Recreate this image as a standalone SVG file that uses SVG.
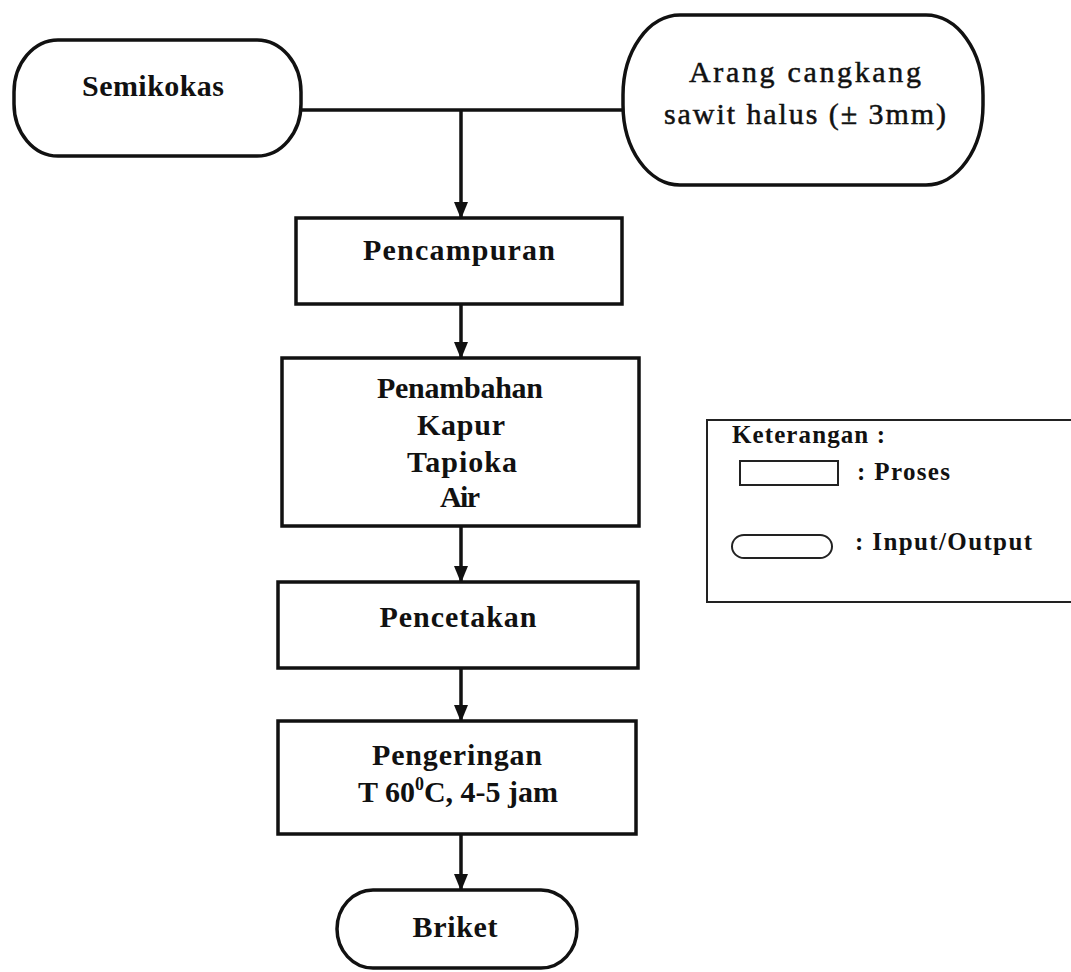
<svg xmlns="http://www.w3.org/2000/svg" width="1071" height="972" viewBox="0 0 1071 972">
<style>
  .node { fill: #fff; stroke: #111; stroke-width: 3.5; }
  .lg { fill: #fff; stroke: #222; stroke-width: 2; }
  .t { font-family: "Liberation Serif", "Times New Roman", "DejaVu Serif", serif; font-weight: bold; font-size: 30px; fill: #111; text-anchor: middle; }
  .tn { font-family: "Liberation Serif", "Times New Roman", "DejaVu Serif", serif; font-weight: normal; font-size: 30px; fill: #111; text-anchor: middle; stroke: #111; stroke-width: 0.5; }
  .l { font-family: "Liberation Serif", "Times New Roman", "DejaVu Serif", serif; font-weight: bold; font-size: 25px; fill: #111; }
  .conn { fill: none; stroke: #111; stroke-width: 3.5; }
</style>
<defs>
  <marker id="ahd" markerUnits="userSpaceOnUse" markerWidth="18" markerHeight="16" refX="16" refY="8" orient="auto" viewBox="0 0 18 16">
    <path d="M0,1 L17,8 L0,15 Z" fill="#111"/>
  </marker>
</defs>
<rect width="1071" height="972" fill="#fff"/>

<g id="connectors">
  <line class="conn" x1="299" y1="110" x2="624" y2="110"/>
  <line class="conn" x1="461" y1="110" x2="461" y2="218" marker-end="url(#ahd)"/>
  <line class="conn" x1="461" y1="304" x2="461" y2="358" marker-end="url(#ahd)"/>
  <line class="conn" x1="461" y1="526" x2="461" y2="582" marker-end="url(#ahd)"/>
  <line class="conn" x1="461" y1="668" x2="461" y2="721" marker-end="url(#ahd)"/>
  <line class="conn" x1="461" y1="834" x2="461" y2="890" marker-end="url(#ahd)"/>
</g>

<g id="semikokas">
  <path class="node" d="M58,40 H257 A44,52 0 0 1 301,92 V104 A44,52 0 0 1 257,156 H58 A44,52 0 0 1 14,104 V92 A44,52 0 0 1 58,40 Z"/>
  <text class="t" x="153" y="96" font-size="29" textLength="142" lengthAdjust="spacing">Semikokas</text>
</g>

<g id="arang">
  <path class="node" d="M680,15 H926 A57,80 0 0 1 983,95 V105 A57,80 0 0 1 926,185 H680 A57,80 0 0 1 623,105 V95 A57,80 0 0 1 680,15 Z"/>
  <text class="tn" x="805" y="82" textLength="232" lengthAdjust="spacing">Arang cangkang</text>
  <text class="tn" x="805" y="124" textLength="282" lengthAdjust="spacing">sawit halus (± 3mm)</text>
</g>

<g id="pencampuran">
  <rect class="node" x="296" y="218" width="326" height="86"/>
  <text class="t" x="459" y="260" textLength="192" lengthAdjust="spacing">Pencampuran</text>
</g>

<g id="penambahan">
  <rect class="node" x="282" y="358" width="357" height="168"/>
  <text class="t" x="460" y="398" textLength="166" lengthAdjust="spacing">Penambahan</text>
  <text class="t" x="461" y="435" textLength="88" lengthAdjust="spacing">Kapur</text>
  <text class="t" x="462" y="472" textLength="110" lengthAdjust="spacing">Tapioka</text>
  <text class="t" x="460" y="507" textLength="40" lengthAdjust="spacing">Air</text>
</g>

<g id="pencetakan">
  <rect class="node" x="278" y="582" width="360" height="86"/>
  <text class="t" x="458" y="627" textLength="157" lengthAdjust="spacing">Pencetakan</text>
</g>

<g id="pengeringan">
  <rect class="node" x="278" y="721" width="358" height="113"/>
  <text class="t" x="457" y="765" textLength="170" lengthAdjust="spacing">Pengeringan</text>
  <text class="t" x="458" y="802">T 60<tspan font-size="18" dy="-12">0</tspan><tspan dy="12">C, 4-5 jam</tspan></text>
</g>

<g id="briket">
  <path class="node" d="M373,890 H541 A36,39 0 0 1 577,929 A36,39 0 0 1 541,968 H373 A36,39 0 0 1 337,929 A36,39 0 0 1 373,890 Z"/>
  <text class="t" x="455" y="937" textLength="85" lengthAdjust="spacing">Briket</text>
</g>

<g id="legend">
  <rect class="lg" x="707" y="420" width="380" height="182"/>
  <text class="l" x="732" y="443" textLength="153" lengthAdjust="spacing">Keterangan :</text>
  <rect class="lg" x="740" y="461" width="98" height="24" stroke-width="1.8"/>
  <text class="l" x="857" y="480" textLength="93" lengthAdjust="spacing">: Proses</text>
  <rect class="lg" x="732" y="535" width="100" height="23" rx="12" ry="11.5" stroke-width="1.8"/>
  <text class="l" x="855" y="550" textLength="177" lengthAdjust="spacing">: Input/Output</text>
</g>
</svg>
